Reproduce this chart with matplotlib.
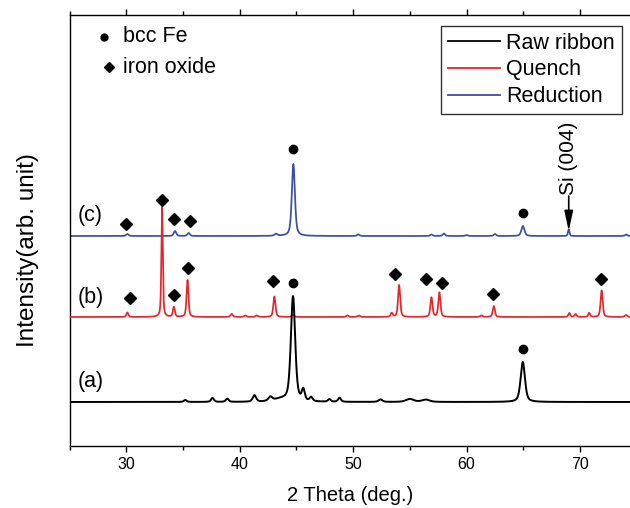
import numpy as np
import matplotlib
matplotlib.use("Agg")
import matplotlib.pyplot as plt
from matplotlib.ticker import MultipleLocator, NullLocator

plt.rcParams['font.family'] = ['Liberation Sans', 'DejaVu Sans']

# ---------------- data ----------------
two_theta_range = (25.0, 74.4)

# Raw ribbon (a)
raw_baseline = 44
raw_pos = [35.2, 37.6, 38.9, 41.3, 42.7, 43.6, 44.7, 45.6, 46.3, 47.9, 48.8, 52.4, 55.0, 56.4, 64.95]
raw_height = [2, 4, 3.3, 6.5, 4.0, 2.5, 105, 11, 4, 2.5, 4, 2.5, 3, 2.3, 40]
raw_fwhm = [0.3, 0.3, 0.3, 0.35, 0.4, 1.5, 0.45, 0.3, 0.3, 0.3, 0.3, 0.4, 0.8, 0.8, 0.45]

# Quench (b)
quench_baseline = 129
quench_pos = [30.1, 33.16, 34.2, 35.4, 39.3, 40.5, 41.5, 43.06, 44.7, 49.5, 50.5, 53.4,
              54.05, 56.9, 57.6, 61.3, 62.4, 69.05, 69.6, 70.8, 71.9, 74.05]
quench_height = [4.5, 110, 10, 37, 3, 1.5, 1.5, 20.5, 2, 1.5, 1.5, 4,
                 32, 19.5, 24.5, 1.5, 11, 4, 3, 4, 26.5, 2]
quench_fwhm = [0.2, 0.15, 0.2, 0.2, 0.25, 0.25, 0.25, 0.22, 0.25, 0.25, 0.25, 0.2,
               0.22, 0.22, 0.22, 0.25, 0.22, 0.2, 0.2, 0.2, 0.22, 0.25]

# Reduction (c)
red_baseline = 210
red_pos = [30.1, 34.3, 35.5, 43.2, 44.73, 50.45, 56.9, 58.0, 60.0, 62.5, 64.96, 69.0, 74.05]
red_height = [2, 5, 3, 2, 72, 1.5, 1.5, 2.5, 1, 2, 10, 7, 1.5]
red_fwhm = [0.25, 0.25, 0.25, 0.3, 0.32, 0.25, 0.25, 0.25, 0.25, 0.25, 0.32, 0.15, 0.25]

series_labels = ['Raw ribbon', 'Quench', 'Reduction']
curve_tags = ['(a)', '(b)', '(c)']

# phase markers: (series index, 2theta, gap above peak)
bcc_marks = [(0, 44.7, 13), (0, 64.95, 13), (2, 44.73, 15), (2, 64.96, 13)]
oxide_marks = [(1, 30.3, 14), (1, 33.15, 7), (1, 34.2, 12), (1, 35.4, 12), (1, 42.95, 15),
               (1, 53.7, 11), (1, 56.4, 18.5), (1, 57.8, 9), (1, 62.3, 12), (1, 71.8, 11),
               (2, 30.0, 10), (2, 34.2, 12), (2, 35.65, 12)]
si_peak = 69.0

xticks_major = [30, 40, 50, 60, 70]

# ---------------- build curves ----------------
x = np.linspace(two_theta_range[0], two_theta_range[1], 6000)


def pvoigt(xx, c, h, w, eta=0.5):
    g = np.exp(-4 * np.log(2) * ((xx - c) / w) ** 2)
    l = 1.0 / (1.0 + 4 * ((xx - c) / w) ** 2)
    return h * (eta * l + (1 - eta) * g)


def pattern(base, pos, hts, fw):
    y = np.full_like(x, float(base))
    for c, h, w in zip(pos, hts, fw):
        y += pvoigt(x, c, h, w)
    return y


curves = [pattern(raw_baseline, raw_pos, raw_height, raw_fwhm),
          pattern(quench_baseline, quench_pos, quench_height, quench_fwhm),
          pattern(red_baseline, red_pos, red_height, red_fwhm)]
colors = ['black', '#E5262A', '#3A4EA6']
zorders = [4, 3, 2]
widths = [1.4, 1.25, 1.25]
baselines = [raw_baseline, quench_baseline, red_baseline]

# ---------------- figure ----------------
W, H = 630, 508
fig = plt.figure(figsize=(W / 100, H / 100), dpi=100)
ax_l, ax_r, ax_t, ax_b = 69.5, 630, 15, 446
ax = fig.add_axes([ax_l / W, 1 - ax_b / H, (ax_r - ax_l) / W, (ax_b - ax_t) / H])

lines = []
for y, c, lab, z, lw in zip(curves, colors, series_labels, zorders, widths):
    ln, = ax.plot(x, y, color=c, lw=lw, label=lab, zorder=z)
    lines.append(ln)

ax.set_xlim(*two_theta_range)
ax.set_ylim(0, 431)


def peak_top(idx, t, win=0.5):
    m = (x > t - win) & (x < t + win)
    return curves[idx][m].max()


for idx, t, gap in bcc_marks:
    ax.plot([t], [peak_top(idx, t) + gap], 'o', color='black', ms=6, zorder=6)
for idx, t, gap in oxide_marks:
    ax.plot([t], [peak_top(idx, t) + gap], 'D', color='black', ms=6.2, zorder=6)

# curve tags
for tag, b in zip(curve_tags, baselines):
    ax.text(26.85, b + 20, tag, fontsize=15.5, ha='center', va='center')

# Si (004) arrow
si_top = peak_top(2, si_peak, 0.2)
ax.annotate('', xy=(si_peak, si_top - 2), xytext=(si_peak, si_top + 33),
            arrowprops=dict(arrowstyle='-|>,head_length=0.6,head_width=0.13',
                            lw=1.2, color='black', mutation_scale=20,
                            shrinkA=0, shrinkB=0), zorder=6)
ax.text(si_peak, si_top + 33.5, 'Si (004)', rotation=90, fontsize=15,
        ha='center', va='bottom')

# phase key (top-left)
ax.plot([0.0616], [0.9497], 'o', color='black', ms=5, transform=ax.transAxes)
ax.plot([0.071], [0.880], 'D', color='black', ms=5.6, transform=ax.transAxes)
ax.text(0.0955, 0.951, 'bcc Fe', transform=ax.transAxes, fontsize=15.5, va='center')
ax.text(0.0955, 0.879, 'iron oxide', transform=ax.transAxes, fontsize=15.5, va='center')

leg = ax.legend(handles=lines, loc='upper right', bbox_to_anchor=(0.9857, 0.9745),
                borderaxespad=0, fontsize=15.5, frameon=True, fancybox=False,
                handlelength=2.4, handletextpad=0.3, labelspacing=0.26,
                borderpad=0.32)
leg.get_frame().set_edgecolor('black')
leg.get_frame().set_linewidth(1.0)
for lh in leg.get_lines():
    lh.set_linewidth(1.3)

# axes styling
ax.spines['right'].set_visible(False)
for s in ['left', 'top', 'bottom']:
    ax.spines[s].set_linewidth(1.0)
ax.xaxis.set_major_locator(MultipleLocator(10))
ax.xaxis.set_minor_locator(MultipleLocator(5))
ax.set_xticks(xticks_major)
ax.yaxis.set_major_locator(NullLocator())
ax.tick_params(axis='x', which='both', direction='out', top=True, bottom=True,
               labeltop=False, width=1.0)
ax.tick_params(axis='x', which='major', length=4.5, labelsize=11.5, pad=3.5)
ax.tick_params(axis='x', which='minor', length=3)
ax.tick_params(axis='y', which='both', left=False, labelleft=False)

ax.set_xlabel('2 Theta (deg.)', fontsize=14.5, labelpad=10)
ax.set_ylabel('Intensity(arb. unit)', fontsize=17.5, va='center')
ax.yaxis.set_label_coords(-0.0735, 0.455)

fig.savefig('out.png', dpi=100)
